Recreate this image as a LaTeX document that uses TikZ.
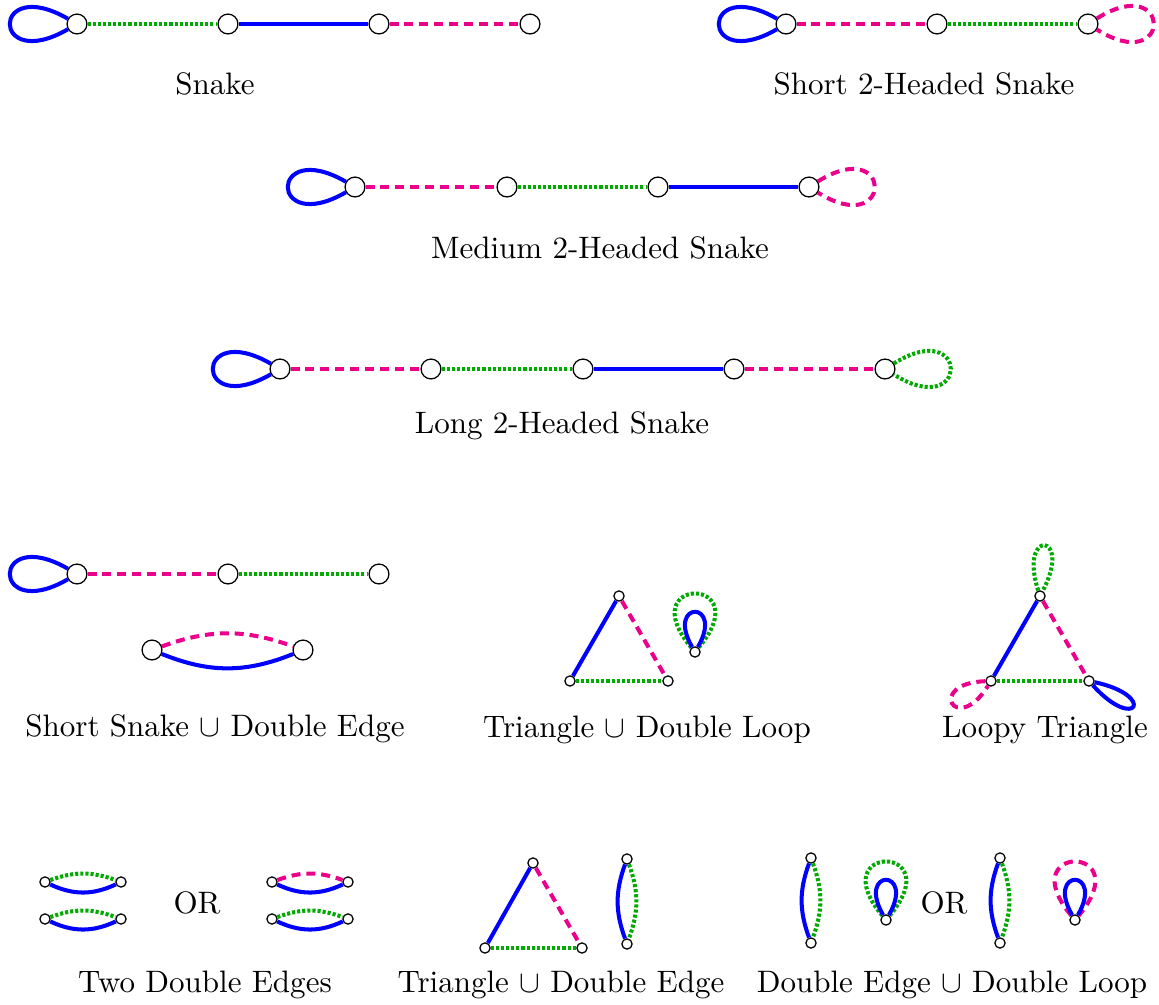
\documentclass[tikz,border=0pt]{standalone}
\usepackage{tikz}
\usetikzlibrary{calc, positioning}
\usepackage{amsmath,amssymb}
\definecolor{edgeblue}{RGB}{0,0,255}
\definecolor{edgepink}{RGB}{235,0,140}
\definecolor{edgegreen}{RGB}{0,170,0}

\begin{document}
\begin{tikzpicture}[x=0.1133mm,y=0.1133mm,
	every node/.style={inner sep=0pt},
	vtx/.style={circle,draw,fill=white,minimum size=6.4pt,line width=0.4pt},
	svtx/.style={circle,draw,fill=white,minimum size=3.3pt,line width=0.4pt},
	bl/.style={draw=edgeblue,line width=1.3pt},
	pk/.style={draw=edgepink,line width=1.3pt,dash pattern=on 2.9pt off 1.9pt},
	gr/.style={draw=edgegreen,line width=1.3pt,dash pattern=on 1pt off 0.65pt}]
	\useasboundingbox (0,0) rectangle (1159,-1005);
	% Snake
	\node[vtx] (a1) at (77,-24) {};
	\node[vtx] (a2) at (228,-24) {};
	\node[vtx] (a3) at (379,-24) {};
	\node[vtx] (a4) at (530,-24) {};
	\draw[bl] (a1) .. controls +(150:100) and +(210:100) .. (a1);
	\draw[gr] (a1) -- (a2);
	\draw[bl] (a2) -- (a3);
	\draw[pk] (a3) -- (a4);
	\node (snake) at (215,-84) {Snake};
	% Short 2-Headed Snake
	\node[vtx] (b1) at (786,-24) {};
	\node[vtx] (b2) at (937,-24) {};
	\node[vtx] (b3) at (1088,-24) {};
	\draw[bl] (b1) .. controls +(150:100) and +(210:100) .. (b1);
	\draw[pk] (b1) -- (b2);
	\draw[gr] (b2) -- (b3);
	\draw[pk] (b3) .. controls +(32:100) and +(-32:100) .. (b3);
	\node (shortsnake) at (924,-84) {Short 2-Headed Snake};
	% Medium 2-Headed Snake
	\node[vtx] (c1) at (355,-187) {};
	\node[vtx] (c2) at (507,-187) {};
	\node[vtx] (c3) at (658,-187) {};
	\node[vtx] (c4) at (809,-187) {};
	\draw[bl] (c1) .. controls +(150:100) and +(210:100) .. (c1);
	\draw[pk] (c1) -- (c2);
	\draw[gr] (c2) -- (c3);
	\draw[bl] (c3) -- (c4);
	\draw[pk] (c4) .. controls +(32:100) and +(-32:100) .. (c4);
	\node (medsnake) at (600,-248) {Medium 2-Headed Snake};
	% Long 2-Headed Snake
	\node[vtx] (e1) at (280,-369) {};
	\node[vtx] (e2) at (431,-369) {};
	\node[vtx] (e3) at (583,-369) {};
	\node[vtx] (e4) at (734,-369) {};
	\node[vtx] (e5) at (885,-369) {};
	\draw[bl] (e1) .. controls +(150:100) and +(210:100) .. (e1);
	\draw[pk] (e1) -- (e2);
	\draw[gr] (e2) -- (e3);
	\draw[bl] (e3) -- (e4);
	\draw[pk] (e4) -- (e5);
	\draw[gr] (e5) .. controls +(32:100) and +(-32:100) .. (e5);
	\node (longsnake) at (562,-426) {Long 2-Headed Snake};
	% Short Snake and Double Edge
	\node[vtx] (f1) at (77,-574) {};
	\node[vtx] (f2) at (228,-574) {};
	\node[vtx] (f3) at (379,-574) {};
	\draw[bl] (f1) .. controls +(150:100) and +(210:100) .. (f1);
	\draw[pk] (f1) -- (f2);
	\draw[gr] (f2) -- (f3);
	\node[vtx] (f4) at (152,-650) {};
	\node[vtx] (f5) at (303,-650) {};
	\draw[pk] (f4) to[bend left=20] (f5);
	\draw[bl] (f4) to[bend right=22] (f5);
	\node (snakedbl) at (215,-729) {Short Snake $\cup$ Double Edge};
	% Triangle and Double Loop
	\node[svtx] (g1) at (619,-596) {};
	\node[svtx] (g2) at (570,-681) {};
	\node[svtx] (g3) at (668,-681) {};
	\draw[bl] (g1) -- (g2);
	\draw[pk] (g1) -- (g3);
	\draw[gr] (g2) -- (g3);
	\node[svtx] (g4) at (695,-652) {};
	\draw[gr] (g4) .. controls +(130:100) and +(50:100) .. (g4);
	\draw[bl] (g4) .. controls +(120:60) and +(60:60) .. (g4);
	\node (triloop) at (647,-730) {Triangle $\cup$ Double Loop};
	% Loopy Triangle
	\node[svtx] (h1) at (1040,-596) {};
	\node[svtx] (h2) at (991,-681) {};
	\node[svtx] (h3) at (1089,-681) {};
	\draw[bl] (h1) -- (h2);
	\draw[pk] (h1) -- (h3);
	\draw[gr] (h2) -- (h3);
	\draw[gr] (h1) .. controls +(108:72) and +(62:72) .. (h1);
	\draw[pk] (h2) .. controls +(182:66) and +(238:66) .. (h2);
	\draw[bl] (h3) .. controls +(348:70) and +(312:70) .. (h3);
	\node (loopytri) at (1045,-730) {Loopy Triangle};
	% Two Double Edges
	\node[svtx] (i1) at (45,-882) {};
	\node[svtx] (i2) at (121,-882) {};
	\node[svtx] (i3) at (45,-919) {};
	\node[svtx] (i4) at (121,-919) {};
	\draw[gr] (i1) to[bend left=20] (i2);
	\draw[bl] (i1) to[bend right=25] (i2);
	\draw[gr] (i3) to[bend left=20] (i4);
	\draw[bl] (i3) to[bend right=25] (i4);
	\node (or1) at (197,-903) {OR};
	\node[svtx] (j1) at (272,-882) {};
	\node[svtx] (j2) at (348,-882) {};
	\node[svtx] (j3) at (272,-919) {};
	\node[svtx] (j4) at (348,-919) {};
	\draw[pk] (j1) to[bend left=20] (j2);
	\draw[bl] (j1) to[bend right=25] (j2);
	\draw[gr] (j3) to[bend left=20] (j4);
	\draw[bl] (j3) to[bend right=25] (j4);
	\node (twodbl) at (205,-985) {Two Double Edges};
	% Triangle and Double Edge
	\node[svtx] (k1) at (533,-863) {};
	\node[svtx] (k2) at (485,-948) {};
	\node[svtx] (k3) at (582,-948) {};
	\draw[bl] (k1) -- (k2);
	\draw[pk] (k1) -- (k3);
	\draw[gr] (k2) -- (k3);
	\node[svtx] (k4) at (627,-859) {};
	\node[svtx] (k5) at (627,-944) {};
	\draw[gr] (k4) to[bend left=20] (k5);
	\draw[bl] (k4) to[bend right=20] (k5);
	\node (tridbl) at (561,-985) {Triangle $\cup$ Double Edge};
	% Double Edge and Double Loop
	\node[svtx] (m1) at (811,-858) {};
	\node[svtx] (m2) at (811,-943) {};
	\draw[gr] (m1) to[bend left=20] (m2);
	\draw[bl] (m1) to[bend right=20] (m2);
	\node[svtx] (m3) at (886,-920) {};
	\draw[gr] (m3) .. controls +(130:100) and +(50:100) .. (m3);
	\draw[bl] (m3) .. controls +(120:60) and +(60:60) .. (m3);
	\node (or2) at (944,-903) {OR};
	\node[svtx] (n1) at (1000,-858) {};
	\node[svtx] (n2) at (1000,-943) {};
	\draw[gr] (n1) to[bend left=20] (n2);
	\draw[bl] (n1) to[bend right=20] (n2);
	\node[svtx] (n3) at (1075,-920) {};
	\draw[pk] (n3) .. controls +(130:100) and +(50:100) .. (n3);
	\draw[bl] (n3) .. controls +(120:60) and +(60:60) .. (n3);
	\node (dblloop) at (952,-985) {Double Edge $\cup$ Double Loop};
\end{tikzpicture}
\end{document}
